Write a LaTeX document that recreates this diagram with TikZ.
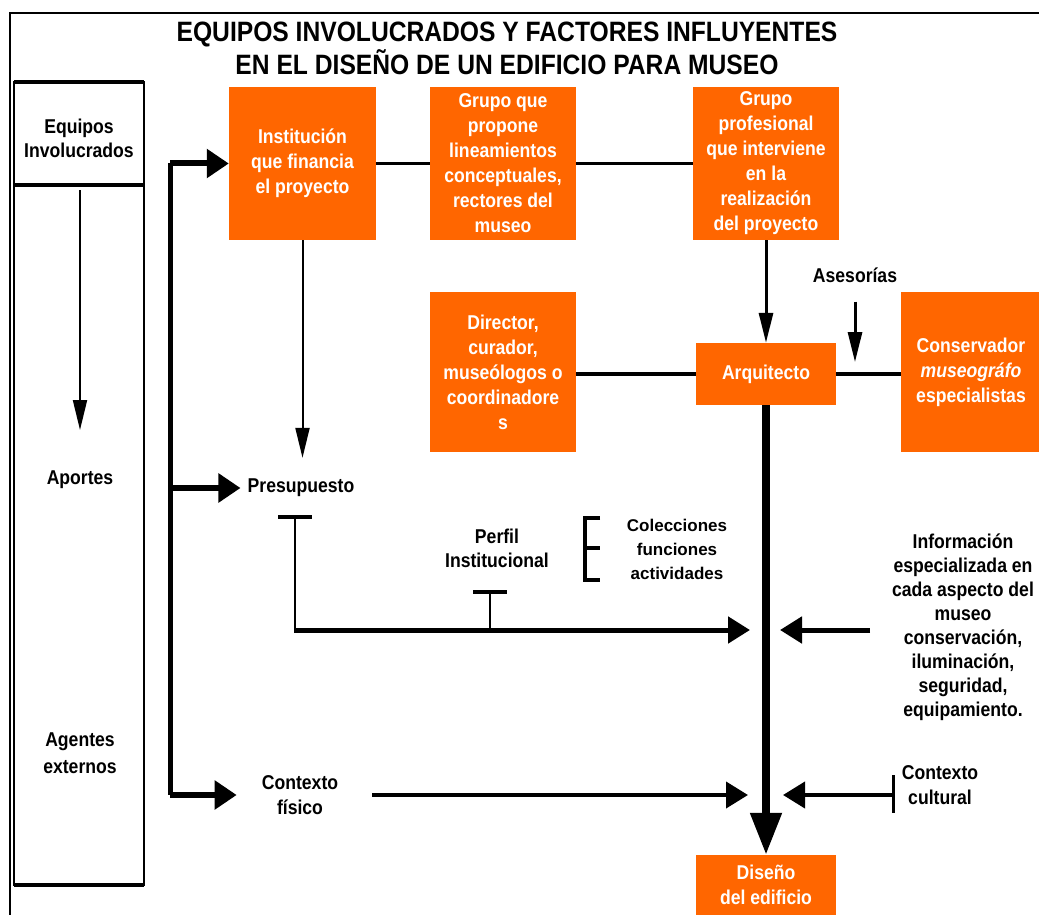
\documentclass[tikz,border=0pt]{standalone}
\usepackage{fontspec}
\setmainfont[FakeStretch=0.88]{Liberation Sans}
\newfontfamily\anchafont{Liberation Sans}
\usetikzlibrary{arrows.meta,positioning}

\definecolor{naranja}{RGB}{255,102,0}

\tikzset{
  caja/.style={fill=naranja, text=white, align=center, inner sep=0pt,
    font=\bfseries\fontsize{20}{25}\selectfont},
  etiqueta/.style={align=center, inner sep=1pt, font=\bfseries\fontsize{20}{24}\selectfont},
  flechagruesa/.style={line width=6pt, -{Triangle[length=22pt,width=28pt]}},
  flechamedia/.style={line width=5pt, -{Triangle[length=22pt,width=26pt]}},
  flechafina/.style={line width=2pt, -{Triangle[length=30pt,width=14pt]}},
  flechatronco/.style={line width=8pt, -{Triangle[length=42pt,width=30pt]}},
  enlace/.style={line width=3.5pt},
}

\begin{document}
\begin{tikzpicture}[x=1pt,y=-1pt]
\useasboundingbox (0,0) rectangle (1039,915);

%Straight Lines (outer frame)
\draw[line width=2pt] (10,915) -- (10,13) -- (1039,13);

% Text Node (title)
\node[font=\bfseries\fontsize{28}{33}\selectfont, align=center] (titulo) at (507,48)
  {EQUIPOS INVOLUCRADOS Y FACTORES INFLUYENTES\\EN EL DISEÑO DE UN EDIFICIO PARA MUSEO};

%Shape: Rectangle (left column)
\draw[line width=1.5pt] (14,82) rectangle (144,885);
\draw[line width=3.5pt] (14,82) -- (144,82);
\draw[line width=3.5pt] (14,185) -- (144,185);
\draw[line width=3.5pt] (14,885) -- (144,885);

% Text Node
\node[etiqueta] (equipos) at (79,138) {Equipos\\Involucrados};
\node[etiqueta] (aportes) at (80,480) {Aportes};
\node[etiqueta, font=\bfseries\fontsize{20}{27}\selectfont] (agentes) at (80,753) {Agentes\\externos};

%Straight Lines (left column arrow)
\coordinate (colarriba) at (80,190);
\coordinate (colabajo) at (80,430);
\draw[flechafina] (colarriba) -- (colabajo);

%Shape: Rectangle (orange boxes)
\node[caja, minimum width=147pt, minimum height=153pt] (inst) at (302.5,163.5) {Institución\\que financia\\el proyecto};
\node[caja, minimum width=146pt, minimum height=153pt] (grupo) at (503,163.5) {Grupo que\\propone\\lineamientos\\conceptuales,\\rectores del\\museo};
\node[caja, minimum width=146pt, minimum height=153pt] (prof) at (766,163.5) {Grupo\\profesional\\que interviene\\en la\\realización\\del proyecto};
\node[caja, minimum width=146pt, minimum height=160pt] (direc) at (503,372) {Director,\\curador,\\museólogos o\\coordinadore\\s};
\node[caja, minimum width=140pt, minimum height=62pt] (arq) at (766,374) {Arquitecto};
\node[caja, minimum width=140pt, minimum height=160pt] (cons) at (971,372) {Conservador\\\textit{museográfo}\\especialistas};
\node[caja, minimum width=140pt, minimum height=60pt] (diseno) at (766,885) {Diseño\\del edificio};

%Straight Lines (links between boxes)
\draw[enlace] (inst.east) -- (grupo.west);
\draw[enlace] (grupo.east) -- (prof.west);
\draw[enlace, line width=4.5pt] (direc.east |- arq.west) -- (arq.west);
\draw[enlace, line width=4.5pt] (arq.east) -- (cons.west |- arq.east);
\draw[flechafina, line width=3pt] (prof.south) -- (arq.north);
\draw[flechatronco] (arq.south) -- (diseno.north);

% Text Node
\node[etiqueta] (asesor) at (855,275) {Asesorías};
\coordinate (asesorllega) at (855,362);
\draw[flechafina, line width=3pt, shorten <=18pt] (asesor.south) -- (asesorllega);

% Text Node
\node[etiqueta] (presup) at (301,488) {Presupuesto};
\node[etiqueta] (perfil) at (497,548) {Perfil\\Institucional};
\node[font=\anchafont\bfseries\fontsize{17}{24}\selectfont, align=center] (colecc) at (677,549) {Colecciones\\funciones\\actividades};
\node[etiqueta] (info) at (963,627) {Información\\especializada en\\cada aspecto del\\museo\\conservación,\\iluminación,\\seguridad,\\equipamiento.};
\node[etiqueta, font=\bfseries\fontsize{20}{25}\selectfont] (ctxfis) at (300,795) {Contexto\\físico};
\node[etiqueta, font=\bfseries\fontsize{20}{25}\selectfont] (ctxcul) at (940,785) {Contexto\\cultural};

%Straight Lines (left spine)
\coordinate (espalto) at (170,163.5);
\coordinate (espbajo) at (170,795);
\draw[line width=5pt] (espalto) -- (espbajo);
\draw[flechagruesa] (espalto) -- (inst.west);
\draw[flechagruesa, shorten >=6pt] (espalto |- presup.west) -- (presup.west);
\draw[flechagruesa, shorten >=24pt] (espbajo) -- (ctxfis.west |- espbajo);

%Straight Lines (budget to architect line)
\draw[flechafina] (inst.south) -- ([yshift=20pt]inst.south |- presup.north);
\coordinate (tpres) at (295,517);
\coordinate (tperf) at (490,592);
\coordinate (llega1) at (750,630);
\draw[line width=4pt] ([xshift=-17pt]tpres) -- ([xshift=17pt]tpres);
\draw[line width=4pt] ([xshift=-17pt]tperf) -- ([xshift=17pt]tperf);
\draw[line width=2pt] (tpres) -- (tpres |- llega1);
\draw[line width=2pt] (tperf) -- (tperf |- llega1);
\draw[flechamedia] ([xshift=-1pt]tpres |- llega1) -- (llega1);

%Straight Lines (bracket)
\draw[line width=4pt] (600,518) -- (585,518) -- (585,580) -- (600,580);
\draw[line width=4pt] (585,548) -- (600,548);

%Straight Lines (right side arrows)
\coordinate (sale2) at (870,630);
\coordinate (llega2) at (780,630);
\draw[flechamedia] (sale2) -- (llega2);

\coordinate (salefis) at (372,795);
\coordinate (llegafis) at (748,795);
\draw[flechamedia, line width=4pt] (salefis) -- (llegafis);

\coordinate (salecul) at (893,795);
\coordinate (llegacul) at (783,795);
\draw[flechamedia, line width=4pt] (salecul) -- (llegacul);
\draw[line width=3pt] (893,775) -- (893,813);

\end{tikzpicture}
\end{document}
